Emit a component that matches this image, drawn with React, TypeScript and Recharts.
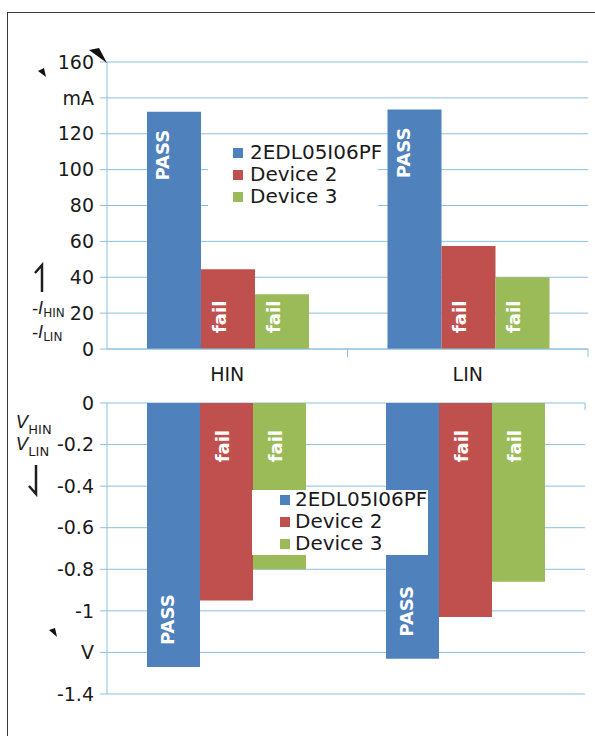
import React from 'react';
import {
  BarChart,
  Bar,
  XAxis,
  YAxis,
  CartesianGrid,
  Legend,
  LabelList,
  ReferenceLine,
} from 'recharts';

// categories and series
const categories = ['HIN', 'LIN'];
const seriesNames = ['2EDL05I06PF', 'Device 2', 'Device 3'];
const seriesColors = ['#4f81bd', '#c0504d', '#9bbb59'];
const seriesTags = ['PASS', 'fail', 'fail'];

// input current (plotted as -I), mA
const current2EDL = [132.2, 133.5];
const currentDev2 = [44.4, 57.4];
const currentDev3 = [30.5, 40];

// input voltage, V
const voltage2EDL = [-1.27, -1.23];
const voltageDev2 = [-0.95, -1.03];
const voltageDev3 = [-0.8, -0.86];

const currentTicks = [0, 20, 40, 60, 80, 100, 120, 140, 160];
const voltageTicks = [0, -0.2, -0.4, -0.6, -0.8, -1, -1.2, -1.4];

const FONT = "'DejaVu Sans', Verdana, sans-serif";
const GRID = '#8cc0df';
const TEXT = '#1a1a1a';
const keys = ['s0', 's1', 's2'];

const currentData = categories.map((cat, i) => ({
  cat,
  s0: current2EDL[i],
  s1: currentDev2[i],
  s2: currentDev3[i],
}));

const voltageData = categories.map((cat, i) => ({
  cat,
  s0: voltage2EDL[i],
  s1: voltageDev2[i],
  s2: voltageDev3[i],
}));

// rotated white tag inside a bar, pinned to its upper or lower end
function tagRenderer(text: string, pinTop: boolean, inset: number, dx: number) {
  return (p: any) => {
    const x = Number(p.x);
    const y = Number(p.y);
    const h = Number(p.height);
    const top = Math.min(y, y + h);
    const bottom = Math.max(y, y + h);
    const cx = x + dx;
    const cy = pinTop ? top + inset : bottom - inset;
    return (
      <text
        x={cx}
        y={cy}
        transform={`rotate(-90 ${cx} ${cy})`}
        textAnchor={pinTop ? 'end' : 'start'}
        dominantBaseline="central"
        fill="#fff"
        fontSize={18}
        fontWeight="bold"
        fontFamily={FONT}
      >
        {text}
      </text>
    );
  };
}

function legendContent(rowTops: number[], swatchLeft: number, textLeft: number) {
  return (p: any) => (
    <div style={{ position: 'relative', width: '100%', height: '100%', background: '#fff' }}>
      {(p.payload || []).map((e: any, i: number) => (
        <div key={e.value} style={{ position: 'absolute', left: 0, top: rowTops[i], height: 0 }}>
          <span
            style={{
              position: 'absolute',
              left: swatchLeft,
              top: -5,
              width: 10,
              height: 10,
              background: e.color,
            }}
          />
          <span
            style={{
              position: 'absolute',
              left: textLeft,
              top: -11,
              lineHeight: '20px',
              fontSize: 20,
              fontFamily: FONT,
              color: TEXT,
              whiteSpace: 'nowrap',
            }}
          >
            {e.value}
          </span>
        </div>
      ))}
    </div>
  );
}

const HALF_BAND = 120.25;

const CategoryTick = (p: any) => {
  const { x, y, payload } = p;
  return (
    <g>
      <line x1={x + HALF_BAND} x2={x + HALF_BAND} y1={y} y2={y + 8} stroke={GRID} />
      <text
        x={x}
        y={y + 25}
        textAnchor="middle"
        dominantBaseline="central"
        fill={TEXT}
        fontSize={19}
        fontFamily={FONT}
      >
        {payload.value}
      </text>
    </g>
  );
};

const yTick = { fill: TEXT, fontSize: 19, fontFamily: FONT };

function CurrentChart() {
  return (
    <BarChart
      width={595}
      height={400}
      data={currentData}
      margin={{ top: 62, right: 7, bottom: 21, left: 0 }}
      barCategoryGap={40}
      barGap={0}
    >
      <CartesianGrid vertical={false} stroke={GRID} />
      <XAxis
        dataKey="cat"
        height={30}
        tickSize={0}
        tickMargin={0}
        axisLine={{ stroke: GRID }}
        tick={<CategoryTick />}
      />
      <YAxis
        width={107}
        domain={[0, 160]}
        ticks={currentTicks}
        interval={0}
        tickSize={7}
        tickMargin={6}
        axisLine={{ stroke: GRID }}
        tickLine={{ stroke: GRID }}
        tick={yTick}
        tickFormatter={(v: number) => (v === 140 ? 'mA' : String(v))}
      />
      {keys.map((k, i) => (
        <Bar key={k} dataKey={k} name={seriesNames[i]} fill={seriesColors[i]} isAnimationActive={false}>
          <LabelList
            dataKey={k}
            content={i === 0 ? tagRenderer(seriesTags[i], true, 18, 16) : tagRenderer(seriesTags[i], false, 16, 18)}
          />
        </Bar>
      ))}
      <Legend
        layout="vertical"
        align="center"
        verticalAlign="middle"
        wrapperStyle={{ left: 208, top: 137, width: 170, height: 90 }}
        content={legendContent([16, 38, 60], 25, 42)}
      />
    </BarChart>
  );
}

function VoltageChart() {
  return (
    <BarChart
      width={595}
      height={366}
      data={voltageData}
      margin={{ top: 33, right: 10, bottom: 42, left: 0 }}
      barCategoryGap={40}
      barGap={0}
    >
      <CartesianGrid vertical={false} stroke={GRID} />
      <XAxis dataKey="cat" hide />
      <XAxis xAxisId="n" type="number" domain={[0, 2]} allowDataOverflow hide />
      <YAxis
        width={107}
        domain={[-1.4, 0]}
        ticks={voltageTicks}
        interval={0}
        tickSize={7}
        tickMargin={6}
        axisLine={{ stroke: GRID }}
        tickLine={{ stroke: GRID }}
        tick={yTick}
        tickFormatter={(v: number) => (v === -1.2 ? 'V' : String(v))}
      />
      {[1, 2].map((b) => (
        <ReferenceLine
          key={b}
          xAxisId="n"
          segment={[
            { x: b, y: 0 },
            { x: b, y: -0.034 },
          ]}
          stroke={GRID}
        />
      ))}
      {keys.map((k, i) => (
        <Bar key={k} dataKey={k} name={seriesNames[i]} fill={seriesColors[i]} isAnimationActive={false}>
          <LabelList
            dataKey={k}
            content={i === 0 ? tagRenderer(seriesTags[i], false, 22, 21) : tagRenderer(seriesTags[i], true, 27, 22)}
          />
        </Bar>
      ))}
      <Legend
        layout="vertical"
        align="center"
        verticalAlign="middle"
        wrapperStyle={{ left: 252, top: 120, width: 176, height: 65 }}
        content={legendContent([10, 32, 54], 28, 43)}
      />
    </BarChart>
  );
}

// axis quantity labels and the small arrow marks drawn beside the axes
function Annotations() {
  const ink = '#1e1e1e';
  return (
    <svg
      width={595}
      height={736}
      style={{ position: 'absolute', left: 0, top: 0, pointerEvents: 'none' }}
      fontFamily={FONT}
    >
      <text x={32} y={314} fontSize={17} fill={ink}>
        -<tspan fontStyle="italic">I</tspan>
        <tspan fontSize={12} dy={3}>HIN</tspan>
      </text>
      <text x={32} y={338} fontSize={17} fill={ink}>
        -<tspan fontStyle="italic">I</tspan>
        <tspan fontSize={12} dy={3}>LIN</tspan>
      </text>
      <text x={16} y={428} fontSize={18} fill={ink}>
        <tspan fontStyle="italic">V</tspan>
        <tspan fontSize={13} dy={6}>HIN</tspan>
      </text>
      <text x={16} y={450} fontSize={18} fill={ink}>
        <tspan fontStyle="italic">V</tspan>
        <tspan fontSize={13} dy={6}>LIN</tspan>
      </text>
      <path d="M35 273 L42 265 L42 292" stroke={ink} strokeWidth={2.5} fill="none" />
      <path d="M36 465 L36 494 L29 486" stroke={ink} strokeWidth={2.5} fill="none" />
      <path d="M89 50 L99 48 L107 63 Z" fill="#111" />
      <path d="M38 71 L44 68 L46 77 Z" fill="#111" />
      <path d="M49 630 L55 628 L57 637 Z" fill="#111" />
    </svg>
  );
}

export default function App() {
  return (
    <div
      style={{
        position: 'absolute',
        left: 0,
        top: 0,
        width: 595,
        height: 736,
        overflow: 'hidden',
        background: '#fff',
      }}
    >
      <div
        style={{
          position: 'absolute',
          left: 7,
          top: 12,
          width: 620,
          height: 760,
          borderTop: '1.5px solid #3a3a3a',
          borderLeft: '1.5px solid #3a3a3a',
        }}
      />
      <div style={{ position: 'absolute', left: 0, top: 0 }}>
        <CurrentChart />
      </div>
      <div style={{ position: 'absolute', left: 0, top: 370 }}>
        <VoltageChart />
      </div>
      <Annotations />
    </div>
  );
}
